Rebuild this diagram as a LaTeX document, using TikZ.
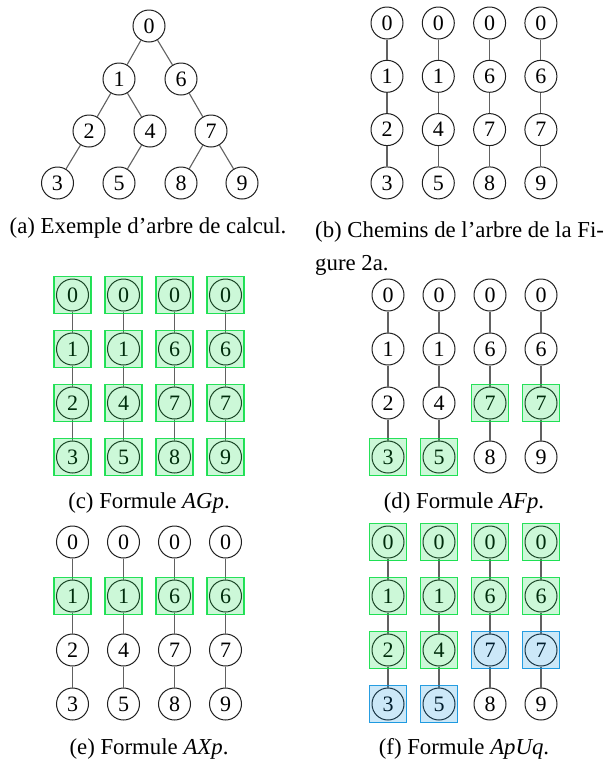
\documentclass[tikz,border=0pt]{standalone}
\usepackage{fontspec}
\setmainfont{Liberation Serif}
\definecolor{gB}{RGB}{0,220,60}
\definecolor{bB}{RGB}{0,140,220}
\tikzset{
  nd/.style={circle, draw=black!88, line width=1pt, minimum size=32pt, inner sep=0pt, fill=white,
    font=\fontsize{22}{22}\selectfont},
  edge/.style={draw=black!62, line width=1.1pt},
  sq/.style={rectangle, minimum size=37pt, inner sep=0pt, line width=1.1pt,
    draw=#1, draw opacity=0.85, fill=#1, fill opacity=0.2},
  capt/.style={inner sep=0pt, font=\fontsize{22.8}{27}\selectfont},
}
\newcommand{\pathpanel}[5]{% prefix, x0, dx, y0, dy
  \foreach \c/\a/\b/\cc/\d in {1/0/1/2/3, 2/0/1/4/5, 3/0/6/7/8, 4/0/6/7/9}{
    \node[nd] (#1-\c-1) at ({#2+(\c-1)*#3},{#4}) {\a};
    \node[nd] (#1-\c-2) at ({#2+(\c-1)*#3},{#4+#5}) {\b};
    \node[nd] (#1-\c-3) at ({#2+(\c-1)*#3},{#4+2*#5}) {\cc};
    \node[nd] (#1-\c-4) at ({#2+(\c-1)*#3},{#4+3*#5}) {\d};
    \draw[edge] (#1-\c-1) -- (#1-\c-2);
    \draw[edge] (#1-\c-2) -- (#1-\c-3);
    \draw[edge] (#1-\c-3) -- (#1-\c-4);
  }%
}
\begin{document}
\begin{tikzpicture}[x=1pt,y=-1pt]
\useasboundingbox (0,0) rectangle (609,764);
% (a) tree
\node[nd] (t0) at (149,26) {0};
\node[nd] (t1) at (119,79) {1};
\node[nd] (t6) at (181,79) {6};
\node[nd] (t2) at (89,131) {2};
\node[nd] (t4) at (150,131) {4};
\node[nd] (t7) at (211,131) {7};
\node[nd] (t3) at (57.5,183) {3};
\node[nd] (t5) at (119,183) {5};
\node[nd] (t8) at (181,183) {8};
\node[nd] (t9) at (242,183) {9};
\foreach \u/\v in {t0/t1, t0/t6, t1/t2, t1/t4, t6/t7, t2/t3, t4/t5, t7/t8, t7/t9}
  \draw[edge] (\u) -- (\v);
\node[capt] (ca) at (148,228) {(a) Exemple d’arbre de calcul.};
% (b)
\pathpanel{b}{387}{51.3}{23}{53.3}
\node[capt, anchor=west] (cb1) at (315,232) {(b) Chemins de l’arbre de la Fi-};
\node[capt, anchor=west] (cb2) at (315,265) {gure 2a.};
% (c)
\pathpanel{c}{72.5}{51}{295}{54}
\foreach \c in {1,2,3,4}{\foreach \r in {1,2,3,4}{\node[sq=gB] (c-s\c\r) at (c-\c-\r) {};}}
\node[capt] (cc) at (149,503) {(c) Formule \textit{AGp}.};
% (d)
\pathpanel{d}{388}{51}{295}{54}
\foreach \c/\r in {1/4, 2/4, 3/3, 4/3}{\node[sq=gB] (d-s\c\r) at (d-\c-\r) {};}
\node[capt] (cd) at (464,503) {(d) Formule \textit{AFp}.};
% (e)
\pathpanel{e}{72.5}{51}{542}{54}
\foreach \c in {1,2,3,4}{\node[sq=gB] (e-s\c2) at (e-\c-2) {};}
\node[capt] (ce) at (149,749) {(e) Formule \textit{AXp}.};
% (f)
\pathpanel{f}{388}{51}{542}{54}
\foreach \c/\r in {1/1,1/2,1/3,2/1,2/2,2/3,3/1,3/2,4/1,4/2}{\node[sq=gB] (f-s\c\r) at (f-\c-\r) {};}
\foreach \c/\r in {1/4,2/4,3/3,4/3}{\node[sq=bB] (f-b\c\r) at (f-\c-\r) {};}
\node[capt] (cf) at (464,749) {(f) Formule \textit{ApUq}.};
\end{tikzpicture}
\end{document}
